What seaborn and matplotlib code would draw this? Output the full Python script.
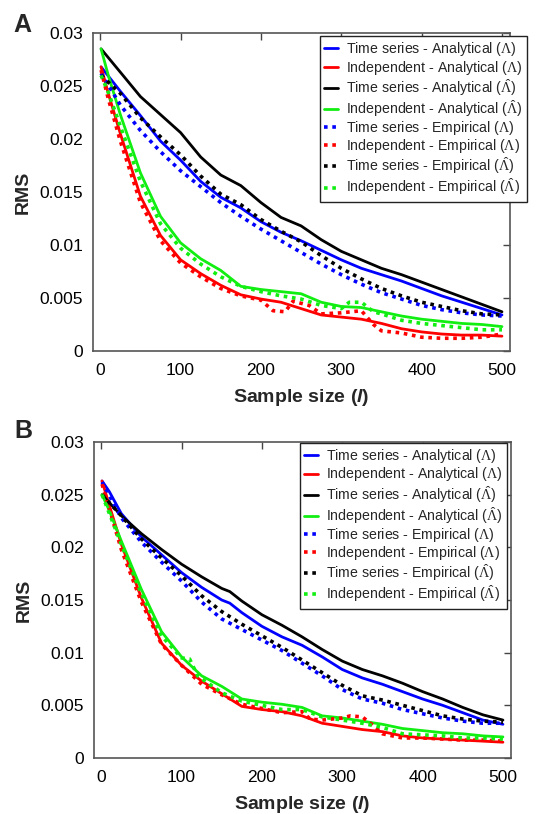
import numpy as np
import pandas as pd
import matplotlib
matplotlib.use("Agg")
import matplotlib.pyplot as plt
from matplotlib.ticker import FuncFormatter
import seaborn as sns

# ---------------- data (RMS values in units of 1e-3) ----------------
grid = [1, 25, 50, 75, 100, 125, 150, 175, 200, 225, 250, 275, 300, 325, 350, 375, 400, 425, 450, 475, 500]
x_fast = [1, 10, 25, 50, 75, 100, 125, 150, 175, 200, 225, 250, 275, 300, 325, 350, 375, 400, 425, 450, 475, 500]

# Panel A
a_ts_an_L = [26.8, 24.5, 22.2, 19.8, 18.0, 16.0, 14.5, 13.5, 12.2, 11.2, 10.4, 9.5, 8.6, 7.8, 7.2, 6.6, 5.9, 5.2, 4.6, 4.0, 3.4]
a_in_an_L = [26.8, 24.3, 20.5, 14.6, 10.9, 8.6, 7.3, 6.2, 5.3, 4.9, 4.6, 4.0, 3.4, 3.2, 3.0, 2.6, 2.1, 1.8, 1.6, 1.5, 1.5, 1.4]
a_ts_an_H = [28.5, 26.3, 24.0, 22.3, 20.6, 18.3, 16.6, 15.6, 14.0, 12.6, 11.8, 10.5, 9.4, 8.6, 7.8, 7.2, 6.5, 5.8, 5.1, 4.4, 3.7]
a_in_an_H = [28.5, 26.0, 22.3, 16.8, 12.7, 10.2, 8.7, 7.6, 6.1, 5.8, 5.6, 5.4, 4.6, 4.2, 4.1, 3.7, 3.3, 3.0, 2.8, 2.6, 2.5, 2.3]
a_ts_em_L = [26.2, 23.2, 20.8, 18.8, 17.0, 15.5, 14.0, 12.7, 11.5, 10.4, 9.3, 8.2, 7.2, 6.3, 5.5, 4.9, 4.3, 3.9, 3.6, 3.4, 3.3]
a_in_em_L_x = [1, 10, 25, 50, 75, 100, 125, 150, 175, 200, 215, 230, 240, 260, 275, 300, 325, 340, 350, 375, 400, 425, 450, 475, 500]
a_in_em_L = [26.5, 23.8, 19.8, 14.0, 10.4, 8.3, 7.0, 5.9, 5.2, 4.8, 3.8, 3.7, 4.7, 4.3, 3.5, 3.6, 3.8, 2.5, 1.9, 1.7, 1.3, 1.2, 1.2, 1.3, 1.6]
a_ts_em_H = [26.0, 24.3, 22.0, 20.2, 18.5, 16.5, 14.8, 13.8, 12.4, 11.3, 10.3, 9.0, 7.8, 6.8, 5.9, 5.2, 4.6, 4.2, 3.8, 3.5, 3.4]
a_in_em_H_x = [1, 10, 25, 50, 75, 100, 125, 150, 175, 200, 225, 250, 275, 300, 310, 325, 340, 350, 375, 400, 425, 450, 475, 500]
a_in_em_H = [26.0, 24.4, 21.2, 16.0, 12.0, 9.7, 8.2, 7.0, 6.1, 5.6, 5.2, 4.9, 4.3, 4.0, 4.6, 4.6, 3.7, 3.5, 2.9, 2.6, 2.4, 2.2, 2.0, 2.0]

# Panel B
b_ts_an_L_x = [1, 10, 25, 50, 75, 100, 125, 150, 160, 175, 200, 225, 250, 275, 300, 325, 350, 375, 400, 425, 450, 475, 500]
b_ts_an_L = [26.3, 25.3, 23.2, 21.0, 19.3, 17.6, 16.2, 15.0, 14.7, 13.8, 12.5, 11.5, 10.7, 9.6, 8.4, 7.6, 7.0, 6.3, 5.6, 5.0, 4.3, 3.6, 3.2]
b_in_an_L = [26.3, 24.0, 20.3, 15.2, 10.9, 8.8, 7.3, 6.1, 4.9, 4.6, 4.4, 4.0, 3.3, 3.0, 2.7, 2.5, 2.1, 1.9, 1.8, 1.7, 1.6, 1.5]
b_ts_an_H_x = [1, 25, 50, 75, 100, 125, 150, 160, 175, 200, 225, 250, 275, 300, 325, 350, 375, 400, 425, 450, 475, 500]
b_ts_an_H = [25.0, 23.0, 21.3, 19.8, 18.4, 17.2, 16.1, 15.8, 14.9, 13.6, 12.6, 11.5, 10.3, 9.2, 8.4, 7.8, 7.1, 6.3, 5.6, 4.8, 4.1, 3.6]
b_in_an_H = [25.0, 23.5, 20.6, 16.0, 12.0, 9.6, 7.8, 6.8, 5.6, 5.3, 5.1, 4.8, 4.0, 3.8, 3.5, 3.2, 2.8, 2.6, 2.4, 2.3, 2.1, 2.0]
b_ts_em_L = [26.2, 22.8, 20.5, 18.6, 16.8, 14.8, 13.2, 12.2, 11.2, 10.2, 9.0, 7.8, 6.5, 5.6, 5.2, 4.6, 4.2, 3.8, 3.5, 3.3, 3.3]
b_in_em_L_x = [1, 25, 50, 75, 100, 125, 150, 175, 200, 225, 250, 260, 275, 300, 310, 325, 340, 350, 375, 400, 425, 450, 475, 500]
b_in_em_L = [26.0, 19.8, 14.8, 10.8, 8.8, 7.0, 6.0, 5.1, 4.7, 4.3, 4.4, 3.7, 3.6, 3.8, 4.0, 3.9, 3.0, 2.3, 1.9, 1.9, 1.8, 1.7, 1.7, 1.6]
b_ts_em_H = [25.0, 23.0, 20.8, 19.0, 17.3, 15.4, 13.9, 12.7, 11.6, 10.5, 9.3, 8.1, 6.9, 5.9, 5.5, 5.0, 4.5, 4.0, 3.7, 3.5, 3.4]
b_in_em_H_x = [1, 25, 50, 75, 100, 110, 120, 150, 175, 200, 225, 250, 275, 300, 325, 350, 375, 400, 425, 450, 475, 500]
b_in_em_H = [25.0, 20.3, 15.6, 11.6, 9.5, 9.4, 7.8, 6.2, 5.4, 5.0, 4.6, 4.6, 3.9, 3.6, 3.3, 2.9, 2.3, 2.2, 2.1, 1.9, 1.9, 1.8]

labels = [
    r"Time series - Analytical ($\mathrm{\Lambda}$)",
    r"Independent - Analytical ($\mathrm{\Lambda}$)",
    r"Time series - Analytical ($\hat{\mathrm{\Lambda}}$)",
    r"Independent - Analytical ($\hat{\mathrm{\Lambda}}$)",
    r"Time series - Empirical ($\mathrm{\Lambda}$)",
    r"Independent - Empirical ($\mathrm{\Lambda}$)",
    r"Time series - Empirical ($\hat{\mathrm{\Lambda}}$)",
    r"Independent - Empirical ($\hat{\mathrm{\Lambda}}$)",
]
colors = ["#0000ff", "#ff0000", "#000000", "#11ee11"] * 2
y_ticks = [0, 0.005, 0.01, 0.015, 0.02, 0.025, 0.03]
x_ticks = [0, 100, 200, 300, 400, 500]
SCALE = 1e-3

# ---------------- style ----------------
sns.set_style("white")
plt.rcParams["font.family"] = ["Liberation Sans", "DejaVu Sans"]
plt.rcParams["mathtext.fontset"] = "custom"
plt.rcParams["mathtext.rm"] = "Liberation Serif"
plt.rcParams["mathtext.it"] = "Liberation Sans:bold:italic"
plt.rcParams["mathtext.bf"] = "Liberation Sans:bold"

fig = plt.figure(figsize=(5.44, 8.14), dpi=100)
axA = fig.add_axes([0.171, 0.5688, 0.7665, 0.3907])
axB = fig.add_axes([0.1728, 0.0688, 0.7665, 0.3882])

panelA = [(grid, a_ts_an_L), (x_fast, a_in_an_L), (grid, a_ts_an_H), (x_fast, a_in_an_H),
          (grid, a_ts_em_L), (a_in_em_L_x, a_in_em_L), (grid, a_ts_em_H), (a_in_em_H_x, a_in_em_H)]
panelB = [(b_ts_an_L_x, b_ts_an_L), (x_fast, b_in_an_L), (b_ts_an_H_x, b_ts_an_H), (x_fast, b_in_an_H),
          (grid, b_ts_em_L), (b_in_em_L_x, b_in_em_L), (grid, b_ts_em_H), (b_in_em_H_x, b_in_em_H)]

def draw(ax, series, anchor, letter, letter_y):
    for i, (xs, ys) in enumerate(series):
        df = pd.DataFrame({"x": xs, "y": np.array(ys) * SCALE})
        if i < 4:
            sns.lineplot(data=df, x="x", y="y", ax=ax, color=colors[i], linewidth=2.0,
                         label=labels[i], estimator=None, sort=False)
        else:
            sns.lineplot(data=df, x="x", y="y", ax=ax, color=colors[i], linewidth=2.6,
                         linestyle=(0, (1.0, 1.3)), label=labels[i], estimator=None, sort=False)
            ax.lines[-1].set_dash_capstyle("butt")
    ax.set_xlim(-9, 510)
    ax.set_ylim(0, 0.03)
    ax.set_xticks(x_ticks)
    ax.set_yticks(y_ticks)
    ax.yaxis.set_major_formatter(FuncFormatter(lambda v, p: "%g" % v))
    ax.tick_params(direction="in", length=5, width=1, top=True, right=True,
                   labelsize=12.5, colors="#444444", labelcolor="black", pad=7)
    ax.tick_params(axis="x", pad=9)
    for s in ax.spines.values():
        s.set_color("#555555")
        s.set_linewidth(1.2)
    ax.set_xlabel(r"Sample size ($l$)", fontsize=14, fontweight="bold", labelpad=6)
    ax.set_ylabel("RMS", fontsize=14, fontweight="bold", labelpad=6)
    leg = ax.legend(loc="upper right", bbox_to_anchor=anchor, fontsize=10.2, frameon=True,
                    fancybox=False, edgecolor="#222222", framealpha=1, borderaxespad=0,
                    handlelength=1.0, handletextpad=0.55, labelspacing=0.02, borderpad=0.3)
    leg.get_frame().set_linewidth(1.0)
    ax.text(-0.19, letter_y, letter, transform=ax.transAxes, fontsize=18, fontweight="bold",
            ha="left", va="top")

draw(axA, panelA, (1.04, 0.99), "A", 1.064)
draw(axB, panelB, (0.99, 0.997), "B", 1.072)

fig.savefig("out.png", dpi=100)
